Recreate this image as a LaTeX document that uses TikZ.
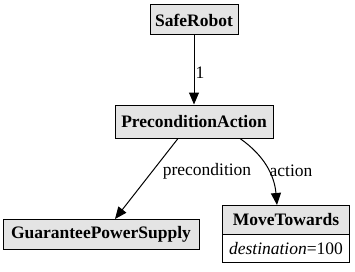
\documentclass[tikz,border=0pt]{standalone}
\usepackage{fontspec}
\setmainfont{Liberation Serif}
\usepackage{xcolor}
\usepackage{tikz}
\usetikzlibrary{arrows.meta,shapes.multipart}
\definecolor{boxgray}{RGB}{228,228,228}
\newcommand{\dotfont}{\fontsize{17.5}{21}\selectfont}
\tikzset{
  cls/.style={draw, line width=1pt, fill=boxgray, inner sep=0pt, font=\dotfont\bfseries},
  attrcls/.style={draw, line width=1pt, rectangle split, rectangle split parts=2,
    rectangle split part fill={boxgray,white}, inner sep=0pt, minimum width=127pt},
  edgeArrow/.style={-{Triangle[length=12pt,width=10pt]}, line width=1pt},
  edgeLabel/.style={inner sep=0pt}
}

\begin{document}
\begin{tikzpicture}[x=1pt,y=1pt,font=\dotfont]
  \useasboundingbox (0,0) rectangle (355,271);

  \node[cls,minimum width=88pt,minimum height=30pt] (sr) at (194,251) {SafeRobot};
  \node[cls,minimum width=158pt,minimum height=33pt] (pa) at (194,149.5) {PreconditionAction};
  \node[cls,minimum width=196pt,minimum height=30pt] (gps) at (101,36.5) {GuaranteePowerSupply};
  \node[attrcls,anchor=north] (mt) at (286,66)
    {\parbox[c][28pt][c]{125pt}{\centering\bfseries MoveTowards}
     \nodepart{two}\parbox[c][27pt][c]{125pt}{\centering\textit{destination}=100}};

  % edges
  \draw[edgeArrow] (sr) -- (pa);
  \node[edgeLabel] (one) at (200,198) {1};
  \draw[edgeArrow] ([xshift=-16pt]pa.south) -- ([xshift=14pt]gps.north);
  \node[edgeLabel] (lpre) at (207,100) {precondition};
  \draw[edgeArrow] ([xshift=46pt]pa.south) to[out=-35,in=95] ([xshift=-9pt]mt.north);
  \node[edgeLabel] (lact) at (291,100) {action};
\end{tikzpicture}
\end{document}
